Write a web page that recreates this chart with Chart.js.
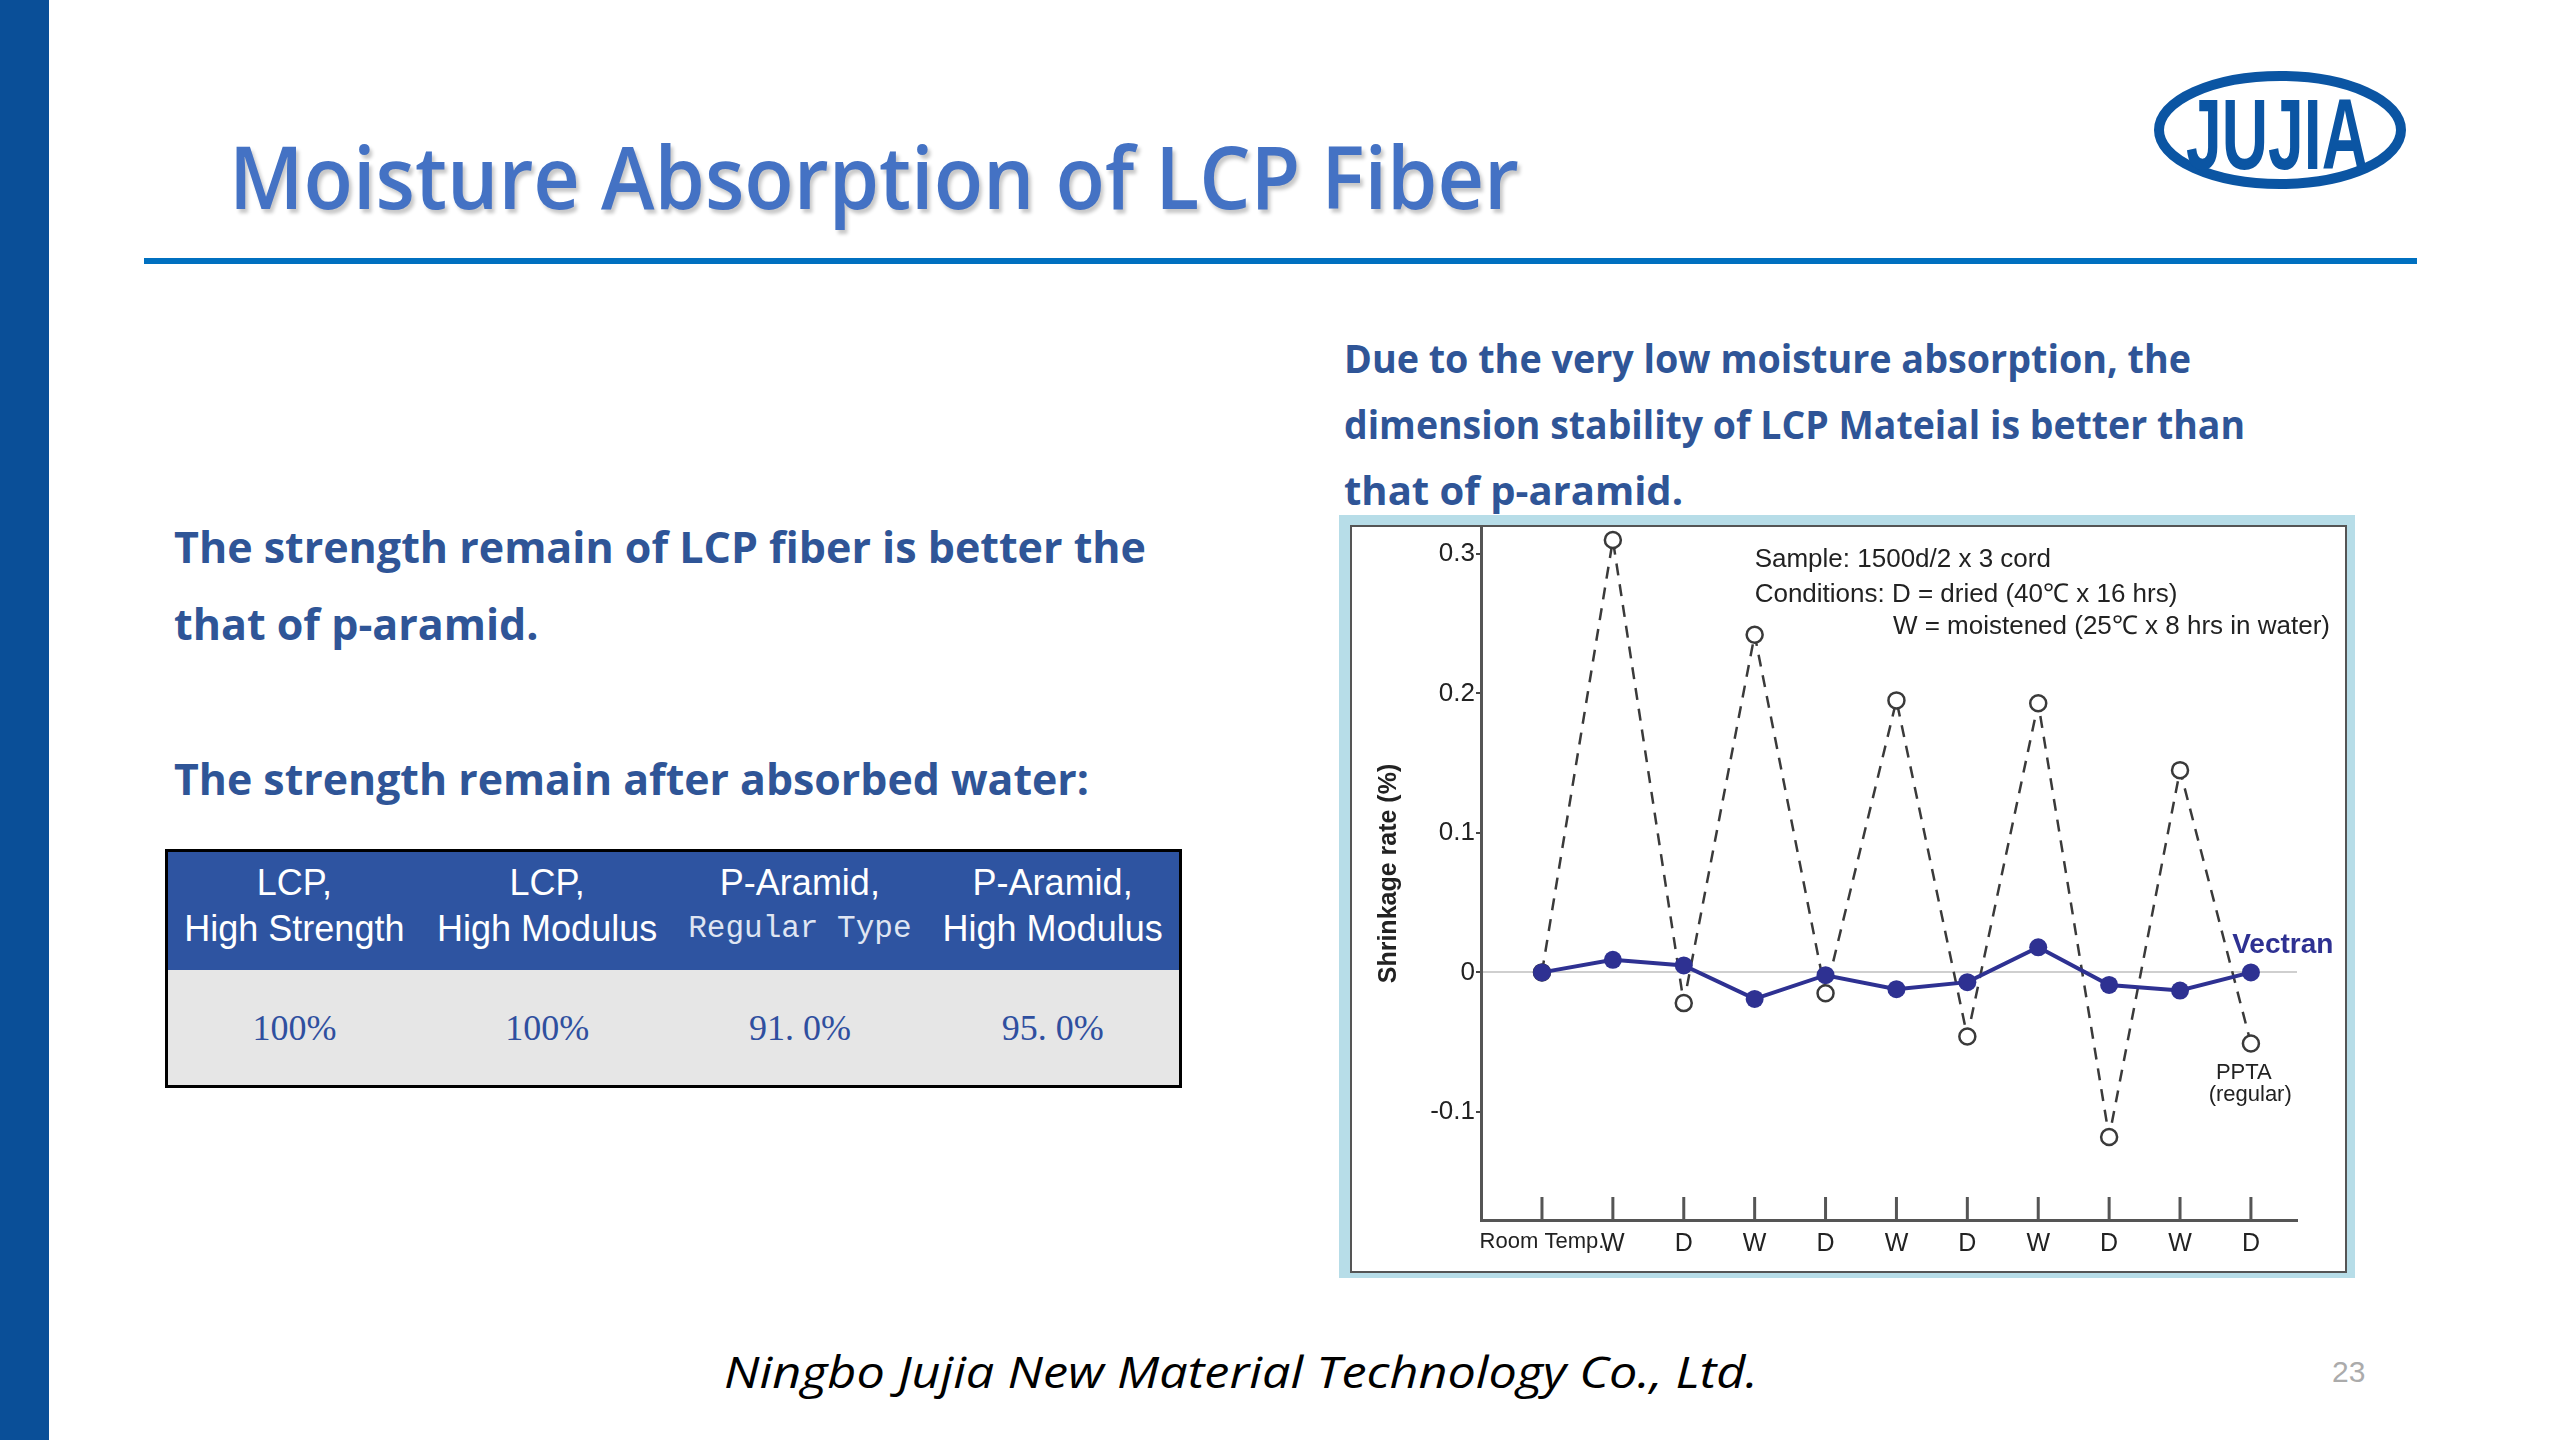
<!DOCTYPE html>
<html>
<head>
<meta charset="utf-8">
<title>Moisture Absorption of LCP Fiber</title>
<script src="https://cdn.jsdelivr.net/npm/chart.js@4.4.0/dist/chart.umd.min.js"></script>
<style>
  html, body { margin: 0; padding: 0; }
  body {
    width: 2560px; height: 1440px; position: relative; overflow: hidden;
    background: #fff; font-family: "Open Sans", "Noto Sans", sans-serif;
  }
  .abs { position: absolute; white-space: nowrap; }
  .fit { display: inline-block; transform-origin: 0 50%; }
  #sidebar { left: 0; top: 0; width: 49px; height: 1440px; background: #0A4F98; }
  #title {
    left: 229px; top: 133px; font-size: 86px; line-height: 86px; font-weight: 600;
    color: #4472C4; text-shadow: 3px 4px 4px rgba(0, 0, 0, 0.22);
  }
  #rule { left: 144px; top: 258px; width: 2273px; height: 6px; background: #0070C0; }
  .para { font-weight: 700; color: #2F5597; }
  .left-txt { left: 174px; font-size: 43px; line-height: 43px; }
  .right-txt { left: 1344px; font-size: 40px; line-height: 40px; }
  #tbl {
    left: 165px; top: 849px; width: 1017px; height: 239px; box-sizing: border-box;
    border: 3px solid #000; display: grid; grid-template-columns: repeat(4, 1fr);
    grid-template-rows: 118px 1fr;
  }
  .th {
    background: #2E54A1; color: #fff; font-family: "Liberation Sans", Arial, sans-serif;
    font-size: 36px; line-height: 46px; display: flex; flex-direction: column;
    align-items: center; justify-content: center; white-space: nowrap; padding-bottom: 10px;
    box-sizing: border-box;
  }
  .th .mono { font-family: "Liberation Mono", "DejaVu Sans Mono", monospace; font-size: 31px; color: #dfe5f2; }
  .td {
    background: #E6E6E6; color: #2F4F9F; font-family: "Liberation Serif", "DejaVu Serif", serif;
    font-size: 36px; display: flex; align-items: center; justify-content: center;
  }
  .td .dot { margin-right: 9px; }
  #frame { left: 1339px; top: 515px; width: 1016px; height: 763px; background: #B7DDE8; }
  #inner {
    left: 1350px; top: 525px; width: 997px; height: 748px; box-sizing: border-box;
    border: 2px solid #555; background: #fff;
  }
  #chartBox { position: absolute; left: 0; top: 0; width: 993px; height: 744px; }
  #footer { left: 724px; top: 1349px; font-size: 44px; line-height: 44px; font-style: italic; color: #000; }
  #pageNo { left: 2332px; top: 1357px; font-size: 30px; line-height: 30px; color: #ABABAB; font-family: "Liberation Sans", Arial, sans-serif; }
</style>
</head>
<body>
<div id="sidebar" class="abs"></div>
<div id="title" class="abs"><span class="fit" data-w="1290">Moisture Absorption of LCP Fiber</span></div>
<div id="rule" class="abs"></div>

<svg class="abs" style="left:2050px;top:45px" width="440" height="180">
  <ellipse cx="230" cy="85" rx="121" ry="54" fill="none" stroke="#0B55A3" stroke-width="10"/>
  <text x="227" y="124" text-anchor="middle" fill="#0B55A3" font-family="Liberation Sans, Arial, sans-serif"
        font-weight="bold" font-size="100" textLength="182" lengthAdjust="spacingAndGlyphs">JUJIA</text>
</svg>

<div class="abs para left-txt" style="top:525px"><span class="fit" data-w="972">The strength remain of LCP fiber is better the</span></div>
<div class="abs para left-txt" style="top:602px"><span class="fit">that of p-aramid.</span></div>
<div class="abs para left-txt" style="top:757px"><span class="fit" data-w="915">The strength remain after absorbed water:</span></div>

<div class="abs para right-txt" style="top:338px"><span class="fit" data-w="847">Due to the very low moisture absorption, the</span></div>
<div class="abs para right-txt" style="top:404px"><span class="fit" data-w="901">dimension stability of LCP Mateial is better than</span></div>
<div class="abs para right-txt" style="top:470px"><span class="fit">that of p-aramid.</span></div>

<div id="tbl" class="abs">
  <div class="th"><div>LCP,</div><div>High Strength</div></div>
  <div class="th"><div>LCP,</div><div>High Modulus</div></div>
  <div class="th"><div>P-Aramid,</div><div class="mono">Regular Type</div></div>
  <div class="th"><div>P-Aramid,</div><div>High Modulus</div></div>
  <div class="td">100%</div>
  <div class="td">100%</div>
  <div class="td">91<span class="dot">.</span>0%</div>
  <div class="td">95<span class="dot">.</span>0%</div>
</div>

<div id="frame" class="abs"></div>
<div id="inner" class="abs">
  <div id="chartBox"><canvas id="shrinkChart"></canvas></div>
</div>

<div id="footer" class="abs"><span class="fit" data-w="1034">Ningbo Jujia New Material Technology Co., Ltd.</span></div>
<div id="pageNo" class="abs">23</div>

<script>
// Shrinkage rate (%) after alternating wet/dry cycles
const categories = ["Room Temp.", "W", "D", "W", "D", "W", "D", "W", "D", "W", "D"];
const vectranValues = [0, 0.009, 0.005, -0.019, -0.002, -0.012, -0.007, 0.018, -0.009, -0.013, 0];
const pptaValues = [0, 0.31, -0.022, 0.242, -0.015, 0.195, -0.046, 0.193, -0.118, 0.145, -0.051];
const yTickValues = [-0.1, 0, 0.1, 0.2, 0.3];
const yTickLabels = ["-0.1", "0", "0.1", "0.2", "0.3"];

const chartFont = "'Liberation Sans', Arial, sans-serif";
const vectranBlue = "#2E3192";

// text notes placed in data units so they follow the scales
const notes = [
  { text: "Sample: 1500d/2 x 3 cord", x: 3.0, y: 0.296, align: "left", size: 26 },
  { text: "Conditions: D = dried (40℃ x 16 hrs)", x: 3.0, y: 0.2705, align: "left", size: 26 },
  { text: "W = moistened (25℃ x 8 hrs in water)", x: 4.95, y: 0.2477, align: "left", size: 26 },
  { text: "Vectran", x: 10.45, y: 0.0196, align: "center", size: 28, bold: true, color: vectranBlue },
  { text: "PPTA", x: 9.9, y: -0.0721, align: "center", size: 22 },
  { text: "(regular)", x: 9.99, y: -0.088, align: "center", size: 22 }
];

const notesPlugin = {
  id: "notes",
  afterDraw(chart) {
    const { ctx, scales: { x, y }, chartArea } = chart;
    ctx.save();
    // upward tick marks on the category axis
    ctx.strokeStyle = "#555";
    ctx.lineWidth = 3;
    categories.forEach((c, i) => {
      const px = x.getPixelForValue(i);
      ctx.beginPath();
      ctx.moveTo(px, chartArea.bottom);
      ctx.lineTo(px, chartArea.bottom - 23);
      ctx.stroke();
    });
    ctx.textBaseline = "middle";
    notes.forEach(n => {
      ctx.font = (n.bold ? "bold " : "") + n.size + "px " + chartFont;
      ctx.fillStyle = n.color || "#222";
      ctx.textAlign = n.align;
      ctx.fillText(n.text, x.getPixelForValue(n.x), y.getPixelForValue(n.y));
    });
    ctx.restore();
  }
};

new Chart(document.getElementById("shrinkChart").getContext("2d"), {
  type: "line",
  data: {
    datasets: [
      {
        label: "Vectran",
        data: categories.map((c, i) => ({ x: i, y: vectranValues[i] })),
        borderColor: vectranBlue,
        backgroundColor: vectranBlue,
        borderWidth: 4,
        pointRadius: 9,
        pointBorderWidth: 0,
        tension: 0
      },
      {
        label: "PPTA (regular)",
        data: categories.map((c, i) => ({ x: i, y: pptaValues[i] })),
        borderColor: "#3a3a3a",
        backgroundColor: "#fff",
        borderWidth: 2.5,
        borderDash: [12, 9],
        pointRadius: 8,
        pointBorderWidth: 2.5,
        tension: 0
      }
    ]
  },
  options: {
    responsive: true,
    maintainAspectRatio: false,
    animation: false,
    layout: { autoPadding: false, padding: { left: 0, right: 48, top: 0, bottom: 0 } },
    plugins: { legend: { display: false }, tooltip: { enabled: false } },
    scales: {
      x: {
        type: "linear",
        min: -0.86,
        max: 10.65,
        afterBuildTicks: scale => { scale.ticks = categories.map((c, i) => ({ value: i })); },
        afterFit: scale => { scale.height = 51; scale.paddingLeft = 0; scale.paddingRight = 0; },
        grid: { color: "rgba(0,0,0,0)", drawTicks: false },
        border: { color: "#555", width: 3 },
        ticks: {
          autoSkip: false, maxRotation: 0, padding: 9, color: "#222",
          font: c => ({ family: chartFont, size: c.index === 0 ? 22 : 25 }),
          callback: (v, i) => categories[i]
        }
      },
      y: {
        min: -0.1775,
        max: 0.3193,
        afterBuildTicks: scale => { scale.ticks = yTickValues.map(v => ({ value: v })); },
        afterFit: scale => { scale.width = 129; scale.paddingTop = 0; scale.paddingBottom = 0; },
        grid: {
          color: c => (c.tick && c.tick.value === 0 ? "#cfcfcf" : "rgba(0,0,0,0)"),
          lineWidth: 2,
          tickColor: "#444",
          tickLength: 5
        },
        border: { color: "#555", width: 3 },
        ticks: {
          padding: 1, color: "#222",
          font: { family: chartFont, size: 26 },
          callback: (v, i) => yTickLabels[i]
        },
        title: {
          display: true,
          text: "Shrinkage rate (%)",
          color: "#222",
          padding: { top: 22, bottom: 0 },
          font: { family: chartFont, size: 25, weight: "bold" }
        }
      }
    }
  },
  plugins: [notesPlugin]
});

// squeeze slide text to the widths used in the original slide
document.fonts.ready.then(() => {
  document.querySelectorAll(".fit[data-w]").forEach(el => {
    const w = el.getBoundingClientRect().width;
    el.style.transform = "scaleX(" + (parseFloat(el.dataset.w) / w) + ")";
  });
});
</script>
</body>
</html>
